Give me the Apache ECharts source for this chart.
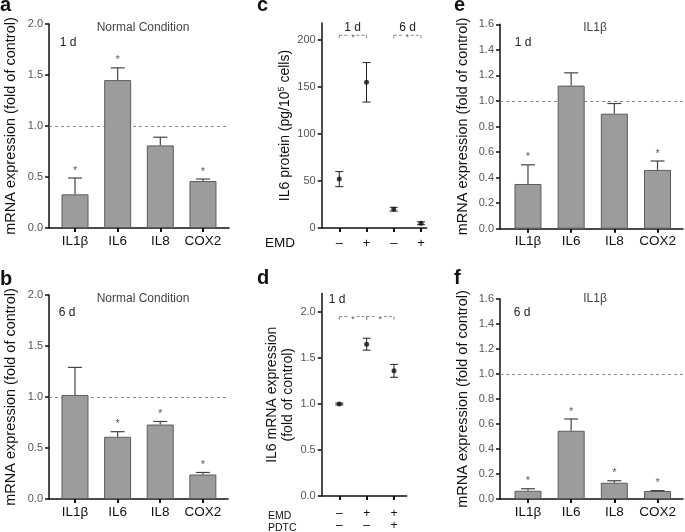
<!DOCTYPE html>
<html><head><meta charset="utf-8">
<script src="https://cdn.jsdelivr.net/npm/echarts@6/dist/echarts.min.js"></script>
<style>html,body{margin:0;padding:0;background:#fff}#c{width:685px;height:532px}</style>
</head><body><div id="c"></div>
<script>
// ---------- data ----------
const genes = ['IL1β', 'IL6', 'IL8', 'COX2'];
// panel a: Normal Condition, 1 d
const aMean = [0.33, 1.45, 0.81, 0.46];
const aSem  = [0.16, 0.12, 0.08, 0.02];
const aSig  = [1, 1, 0, 1];
// panel b: Normal Condition, 6 d
const bMean = [1.02, 0.61, 0.73, 0.24];
const bSem  = [0.27, 0.05, 0.03, 0.02];
const bSig  = [0, 1, 1, 1];
// panel e: IL1β, 1 d
const eMean = [0.35, 1.12, 0.90, 0.46];
const eSem  = [0.15, 0.10, 0.08, 0.07];
const eSig  = [1, 0, 0, 1];
// panel f: IL1β, 6 d
const fMean = [0.066, 0.546, 0.13, 0.064];
const fSem  = [0.016, 0.094, 0.016, 0.003];
const fSig  = [1, 1, 1, 1];
// panel c: IL6 protein
const cEmd  = ['–', '+', '–', '+'];
const cMean = [52, 155, 20, 5];
const cSem  = [8, 21, 2, 1.5];
const cPairs = [[0, 1], [2, 3]];
const cPairY = 205;
const cDays = ['1 d', '6 d'];
// panel d: IL6 mRNA
const dEmd  = ['–', '+', '+'];
const dPdtc = ['–', '–', '+'];
const dMean = [1.0, 1.65, 1.36];
const dSem  = [0.01, 0.065, 0.07];
const dPairs = [[0, 1], [1, 2]];
const dPairY = 1.95;
// tick labels
const abTicks = [0, 0.5, 1, 1.5, 2];
const efTicks = [0, 0.2, 0.4, 0.6, 0.8, 1.0, 1.2, 1.4, 1.6];
const cTicks = [0, 50, 100, 150, 200];
const dTicks = [0, 0.5, 1, 1.5, 2];

// ---------- layout / style ----------
const FONT = '"Liberation Sans", Arial, sans-serif';
const AX = '#111';
const grids = [
  {left: 49,    top: 24,    width: 180, height: 204},   // a
  {left: 49,    top: 295,   width: 179, height: 204},   // b
  {left: 321.7, top: 23.1,  width: 105, height: 204.9}, // c
  {left: 321.7, top: 293.6, width: 85,  height: 205.7}, // d
  {left: 500,   top: 24.3,  width: 183, height: 204.4}, // e
  {left: 500,   top: 299,   width: 183, height: 200}    // f
];
const xAxes = [], yAxes = [], series = [];

function upperErr(params, api) {
  const x = api.value(0), m = api.value(1), s = api.value(2);
  const b = api.coord([x, m]), t = api.coord([x, m + s]);
  const st = {stroke: '#444', lineWidth: 1.2};
  return {type: 'group', children: [
    {type: 'line', shape: {x1: b[0], y1: b[1], x2: t[0], y2: t[1]}, style: st},
    {type: 'line', shape: {x1: t[0] - 7, y1: t[1], x2: t[0] + 7, y2: t[1]}, style: st}
  ]};
}
function bothErr(params, api) {
  const x = api.value(0), m = api.value(1), s = api.value(2);
  const b = api.coord([x, m - s]), t = api.coord([x, m + s]);
  const st = {stroke: '#222', lineWidth: 1};
  return {type: 'group', children: [
    {type: 'line', shape: {x1: b[0], y1: b[1], x2: t[0], y2: t[1]}, style: st},
    {type: 'line', shape: {x1: t[0] - 4, y1: t[1], x2: t[0] + 4, y2: t[1]}, style: st},
    {type: 'line', shape: {x1: b[0] - 4, y1: b[1], x2: b[0] + 4, y2: b[1]}, style: st}
  ]};
}
function bracket(params, api) {
  const p0 = api.coord([api.value(0), api.value(2)]);
  const p1 = api.coord([api.value(1), api.value(2)]);
  const mid = (p0[0] + p1[0]) / 2, g = 3.5;
  const st = {stroke: '#888', lineWidth: 1, lineDash: [3, 2]};
  const st2 = {stroke: '#888', lineWidth: 1};
  return {type: 'group', children: [
    {type: 'line', shape: {x1: p0[0], y1: p0[1], x2: mid - g, y2: p0[1]}, style: st},
    {type: 'line', shape: {x1: mid + g, y1: p0[1], x2: p1[0], y2: p0[1]}, style: st},
    {type: 'line', shape: {x1: p0[0], y1: p0[1], x2: p0[0], y2: p0[1] + 3}, style: st2},
    {type: 'line', shape: {x1: p1[0], y1: p0[1], x2: p1[0], y2: p0[1] + 3}, style: st2},
    {type: 'text', style: {text: '*', x: mid, y: p0[1] + 2.5, align: 'center', verticalAlign: 'middle',
      fontSize: 9, fill: '#555', fontFamily: FONT}}
  ]};
}

function axisLine() { return {show: true, onZero: false, lineStyle: {color: AX, width: 1.5}}; }

function addBarPanel(gi, means, sems, sigs, xmin, xmax, ymax, yticks, nameGap) {
  const idx = genes.map((g, i) => i);
  xAxes.push({type: 'value', gridIndex: gi, min: xmin, max: xmax, axisLine: axisLine(),
    axisTick: {show: true, customValues: idx, length: 4, lineStyle: {color: AX, width: 2}},
    axisLabel: {show: true, customValues: idx, formatter: v => genes[Math.round(v)],
      fontSize: 13.5, color: '#111', fontFamily: FONT, margin: 6},
    splitLine: {show: false}});
  yAxes.push({type: 'value', gridIndex: gi, min: 0, max: ymax, axisLine: axisLine(),
    axisTick: {show: true, customValues: yticks, length: 4, lineStyle: {color: AX, width: 1.5}},
    axisLabel: {customValues: yticks, formatter: v => v.toFixed(1), fontSize: 11, color: '#555',
      fontFamily: FONT, margin: 6},
    splitLine: {show: false},
    name: 'mRNA expression (fold of control)', nameLocation: 'middle', nameGap: nameGap,
    nameTextStyle: {fontSize: 14.5, color: '#111', fontFamily: FONT}});
  series.push({type: 'line', xAxisIndex: gi, yAxisIndex: gi, data: [], z: 1,
    markLine: {silent: true, symbol: 'none', z: 1, label: {show: false},
      lineStyle: {type: [3, 3], color: '#888', width: 1}, data: [{yAxis: 1}]}});
  series.push({type: 'bar', xAxisIndex: gi, yAxisIndex: gi, barWidth: 27, z: 2,
    data: means.map((v, i) => [i, v]),
    itemStyle: {color: '#9c9c9c', borderColor: '#5c5c5c', borderWidth: 1}});
  series.push({type: 'custom', xAxisIndex: gi, yAxisIndex: gi, z: 3, renderItem: upperErr,
    data: means.map((v, i) => [i, v, sems[i]])});
  series.push({type: 'scatter', xAxisIndex: gi, yAxisIndex: gi, symbolSize: 1, z: 4,
    itemStyle: {color: 'rgba(0,0,0,0)'},
    data: means.map((v, i) => [i, v + sems[i]]).filter((d, i) => sigs[i]),
    label: {show: true, formatter: '*', position: 'top', distance: 1.5, fontSize: 11,
      color: '#333', fontFamily: FONT}});
}

function addPointPanel(gi, labels, means, sems, xmin, xmax, ymax, yticks, yfmt, name, nameGap,
                       labMargin, labSize, labLH, pairs, pairY) {
  const idx = means.map((v, i) => i);
  xAxes.push({type: 'value', gridIndex: gi, min: xmin, max: xmax, axisLine: axisLine(),
    axisTick: {show: true, customValues: idx, length: 4, lineStyle: {color: AX, width: 2}},
    axisLabel: {show: true, customValues: idx, formatter: v => labels[Math.round(v)],
      fontSize: labSize, lineHeight: labLH, color: '#111', fontFamily: FONT, margin: labMargin},
    splitLine: {show: false}});
  yAxes.push({type: 'value', gridIndex: gi, min: 0, max: ymax, axisLine: axisLine(),
    axisTick: {show: true, customValues: yticks, length: 4, lineStyle: {color: AX, width: 1.5}},
    axisLabel: {customValues: yticks, formatter: yfmt, fontSize: 11, color: '#555',
      fontFamily: FONT, margin: 6},
    splitLine: {show: false},
    name: name, nameLocation: 'middle', nameGap: nameGap,
    nameTextStyle: {fontSize: 14, color: '#111', fontFamily: FONT, lineHeight: 16,
      rich: {s: {fontSize: 9, verticalAlign: 'top', padding: [0, 0, 6, 0], color: '#111', fontFamily: FONT}}}});
  series.push({type: 'custom', xAxisIndex: gi, yAxisIndex: gi, z: 3, renderItem: bracket,
    data: pairs.map(p => [p[0], p[1], pairY])});
  series.push({type: 'custom', xAxisIndex: gi, yAxisIndex: gi, z: 3, renderItem: bothErr,
    data: means.map((v, i) => [i, v, sems[i]])});
  series.push({type: 'scatter', xAxisIndex: gi, yAxisIndex: gi, z: 4, symbol: 'circle', symbolSize: 5,
    itemStyle: {color: '#111'}, data: means.map((v, i) => [i, v])});
}

addBarPanel(0, aMean, aSem, aSig, -0.61, 3.61, 2, abTicks, 31);
addBarPanel(1, bMean, bSem, bSig, -0.61, 3.59, 2, abTicks, 31);
addPointPanel(2, cEmd, cMean, cSem, -0.645, 3.21, 218, cTicks, v => String(v),
  'IL6 protein (pg/10{s|5} cells)', 21, 9, 13, 13, cPairs, cPairY);
addPointPanel(3, dEmd.map((e, i) => e + '\n' + dPdtc[i]), dMean, dSem, -0.645, 2.465, 2.2, dTicks,
  v => v.toFixed(1), 'IL6 mRNA expression\n(fold of control)', 25, 11.5, 12, 12.3, dPairs, dPairY);
addBarPanel(4, eMean, eSem, eSig, -0.648, 3.59, 1.6, efTicks, 30);
addBarPanel(5, fMean, fSem, fSig, -0.648, 3.59, 1.6, efTicks, 30);

function txt(text, x, y, size, opts) {
  return Object.assign({type: 'text', x: x, y: y, silent: true,
    style: Object.assign({text: text, fontSize: size, fill: '#111', fontFamily: FONT,
      align: 'center', verticalAlign: 'middle'}, opts || {})});
}
const graphics = [
  txt('a', 0, -4.5, 20, {fontWeight: 'bold', align: 'left', verticalAlign: 'top'}),
  txt('b', 0, 269, 20, {fontWeight: 'bold', align: 'left', verticalAlign: 'top'}),
  txt('c', 257, -4.5, 20, {fontWeight: 'bold', align: 'left', verticalAlign: 'top'}),
  txt('d', 257, 268, 20, {fontWeight: 'bold', align: 'left', verticalAlign: 'top'}),
  txt('e', 454, -4.5, 20, {fontWeight: 'bold', align: 'left', verticalAlign: 'top'}),
  txt('f', 454, 268, 20, {fontWeight: 'bold', align: 'left', verticalAlign: 'top'}),
  txt('Normal Condition', 143, 28, 12, {fill: '#444'}),
  txt('Normal Condition', 143, 299, 12, {fill: '#444'}),
  txt('IL1β', 595, 28, 12, {fill: '#444'}),
  txt('IL1β', 595, 299, 12, {fill: '#444'}),
  txt('1 d', 68, 43, 12, {fill: '#222'}),
  txt('6 d', 67, 313, 12, {fill: '#222'}),
  txt('1 d', 523, 43, 12, {fill: '#222'}),
  txt('6 d', 522, 313, 12, {fill: '#222'}),
  txt(cDays[0], 352.5, 28, 12, {fill: '#222'}),
  txt(cDays[1], 407.5, 28, 12, {fill: '#222'}),
  txt('1 d', 337, 300, 12, {fill: '#222'}),
  txt('EMD', 280, 243, 13.5, {}),
  txt('EMD', 268, 516, 10.5, {align: 'left'}),
  txt('PDTC', 268, 528, 10.5, {align: 'left'})
];

const chart = echarts.init(document.getElementById('c'), null, {renderer: 'canvas'});
chart.setOption({
  animation: false,
  backgroundColor: '#fff',
  grid: grids.map(g => Object.assign({containLabel: false}, g)),
  xAxis: xAxes,
  yAxis: yAxes,
  series: series,
  graphic: graphics
});
</script>
</body></html>
